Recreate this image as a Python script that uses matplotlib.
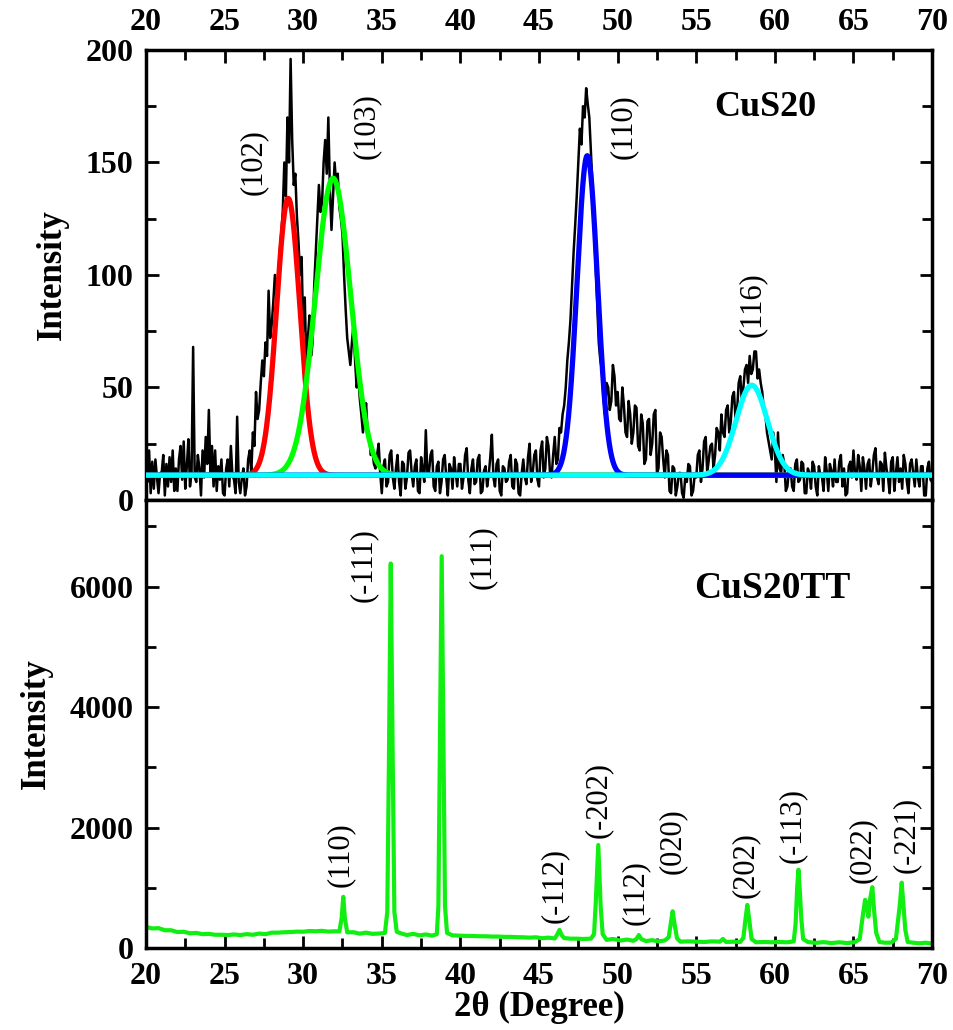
import numpy as np
import matplotlib.pyplot as plt
from matplotlib.ticker import MultipleLocator

plt.rcParams['font.family'] = ['Liberation Serif', 'DejaVu Serif']

# CuS20 raw scan, 20 -> 70 deg in 0.1 deg steps
scan_start, scan_step = 20.0, 0.1
cus20_counts = [
    14, 8, 22, 3, 17, 5, 18, 10, 3, 12,
    12, 20, 2, 16, 6, 19, 8, 22, 4, 14,
    4, 18, 24, 9, 26, 5, 15, 27, 6, 12,
    68, 10, 8, 20, 14, 2, 22, 10, 28, 16,
    40, 12, 24, 6, 22, 4, 15, 9, 18, 3,
    2, 14, 18, 6, 24, 11, 9, 3, 37, 8,
    3, 10, 14, 2, 6, 18, 22, 12, 30, 24,
    48, 36, 40, 52, 62, 55, 70, 64, 93, 72,
    78, 88, 100, 92, 96, 110, 118, 128, 150, 135,
    170, 150, 196, 160, 140, 145, 126, 115, 100, 108,
    75, 90, 60, 72, 82, 64, 70, 95, 110, 125,
    140, 128, 132, 150, 160, 145, 170, 138, 120, 135,
    150, 140, 145, 130, 125, 118, 100, 85, 72, 66,
    60, 70, 78, 62, 50, 55, 45, 38, 30, 36,
    43, 30, 28, 20, 22, 16, 14, 20, 25, 12,
    3, 15, 18, 6, 8, 20, 22, 10, 5, 14,
    20, 8, 2, 17, 16, 5, 10, 21, 22, 12,
    6, 15, 18, 4, 3, 19, 14, 8, 31, 12,
    12, 20, 22, 6, 4, 15, 17, 3, 8, 18,
    20, 10, 2, 16, 14, 5, 19, 12, 6, 16,
    16, 5, 10, 20, 23, 9, 3, 14, 18, 7,
    8, 18, 20, 3, 4, 13, 15, 6, 11, 19,
    29, 10, 6, 16, 18, 4, 2, 15, 14, 8,
    9, 17, 20, 6, 5, 18, 16, 3, 2, 12,
    18, 10, 7, 19, 25, 8, 12, 20, 22, 9,
    6, 22, 26, 10, 14, 28, 24, 12, 10, 20,
    28, 16, 18, 32, 30, 38, 42, 50, 62, 70,
    80, 95, 110, 122, 135, 150, 165, 158, 175, 170,
    183, 176, 170, 155, 140, 120, 105, 88, 70, 62,
    58, 45, 38, 52, 50, 40, 44, 60, 55, 42,
    48, 36, 35, 50, 42, 30, 28, 44, 38, 25,
    30, 42, 41, 24, 22, 38, 34, 16, 18, 35,
    36, 20, 25, 38, 40, 12, 14, 30, 28, 18,
    10, 22, 20, 4, 3, 15, 14, 2, 6, 12,
    12, 3, 1, 10, 8, 16, 15, 2, 4, 11,
    10, 20, 22, 8, 14, 26, 28, 12, 18, 24,
    25, 14, 20, 32, 30, 22, 38, 30, 28, 40,
    42, 30, 35, 46, 48, 36, 40, 52, 55, 44,
    50, 58, 60, 52, 64, 56, 58, 66, 66, 54,
    58, 52, 48, 40, 38, 30, 26, 22, 18, 30,
    22, 8, 30, 14, 12, 20, 16, 4, 6, 14,
    14, 6, 4, 16, 18, 8, 9, 17, 16, 3,
    3, 14, 12, 5, 17, 15, 6, 2, 15, 11,
    10, 4, 19, 13, 4, 16, 13, 6, 18, 8,
    8, 17, 20, 6, 14, 2, 3, 15, 17, 10,
    22, 12, 9, 20, 15, 4, 19, 14, 5, 16,
    18, 6, 12, 20, 23, 10, 7, 17, 16, 4,
    21, 14, 10, 3, 17, 19, 4, 12, 19, 8,
    14, 5, 20, 16, 8, 3, 16, 18, 12, 6,
    18, 10, 6, 15, 15, 2, 2, 14, 17, 9,
    8,
]
scan_x = scan_start + scan_step * np.arange(len(cus20_counts))

# gaussian peak fits on the CuS20 scan
fit_colors = ['#ff0000', '#00ff00', '#0000ff', '#00ffff']
fit_center = [29.05, 31.9, 48.07, 58.53]
fit_height = [123, 132, 142, 40]
fit_sigma = [0.74, 1.12, 0.65, 1.0]
fit_base = 11

top_labels = ['(102)', '(103)', '(110)', '(116)']
top_label_x = [26.8, 34.0, 50.35, 58.55]
top_label_y = [150, 166, 166, 87]

# CuS20TT pattern
tt_x = [20.0, 20.4, 20.8, 21.2, 21.6, 22.0, 22.4, 22.8, 23.2, 23.6, 24.0, 24.4,
        24.8, 25.2, 25.6, 26.0, 26.4, 26.8, 27.2, 27.6, 28.0, 28.4, 28.8, 29.2,
        29.6, 30.0, 30.4, 30.8, 31.2, 31.6, 32.0, 32.3,
        32.45, 32.55, 32.65, 32.8,
        33.2, 33.6, 34.0, 34.4, 34.8, 35.2,
        35.35, 35.45, 35.57, 35.7, 35.8, 35.95,
        36.2, 36.6, 37.0, 37.4, 37.8, 38.2, 38.5,
        38.6, 38.7, 38.81, 38.92, 39.02, 39.15,
        39.5, 40.0, 40.4, 40.8, 41.2, 41.6, 42.0, 42.4, 42.8, 43.2, 43.6, 44.0,
        44.4, 44.8, 45.2, 45.6, 46.0,
        46.15, 46.3, 46.45, 46.6,
        47.0, 47.4, 47.8, 48.3, 48.5,
        48.6, 48.77, 48.92, 49.05,
        49.3, 49.7, 50.2, 50.6, 51.0, 51.2, 51.35, 51.5, 51.8, 52.2, 52.6, 53.0,
        53.25, 53.38, 53.5, 53.62, 53.78,
        54.0, 54.5, 55.0, 55.5, 56.0, 56.5, 56.7, 56.9, 57.4, 57.8, 58.0,
        58.12, 58.25, 58.38, 58.52,
        58.8, 59.3, 59.8, 60.3, 60.8, 61.2, 61.32,
        61.42, 61.5, 61.6, 61.68, 61.8,
        62.1, 62.6, 63.1, 63.6, 64.1, 64.6, 65.1, 65.4, 65.55,
        65.74, 65.85, 65.95, 66.05, 66.2, 66.32, 66.45, 66.65,
        67.0, 67.4, 67.7, 67.85, 67.95, 68.07, 68.18, 68.3, 68.45,
        68.8, 69.2, 69.6, 70.0]
tt_y = [350, 325, 330, 295, 295, 265, 270, 245, 250, 230, 235, 220,
        220, 215, 225, 215, 230, 220, 240, 230, 255, 255, 262, 265,
        272, 270, 282, 278, 285, 272, 278, 275,
        500, 850, 500, 260,
        262, 238, 255, 235, 240, 250,
        600, 3000, 6385, 3000, 600, 270,
        245, 215, 235, 210, 225, 205, 230,
        700, 3500, 6506, 3500, 700, 250,
        210, 205, 200, 200, 195, 195, 190, 190, 185, 185, 180, 178,
        172, 178, 162, 172, 158,
        220, 300, 210, 165,
        155, 155, 150, 155, 230,
        700, 1710, 700, 230,
        135, 150, 125, 140, 120, 150, 215, 150, 115, 130, 110, 125,
        180, 400, 610, 400, 160,
        105, 110, 105, 100, 110, 105, 150, 100, 105, 100, 170,
        450, 715, 450, 150,
        95, 100, 95, 100, 95, 110, 400,
        1000, 1300, 900, 500, 150,
        100, 85, 98, 82, 95, 82, 98, 150, 450,
        800, 700, 520, 800, 1010, 600, 250, 100,
        88, 90, 150, 500, 720, 1085, 700, 300, 100,
        88, 78, 88, 72]

bot_labels = ['(110)', '(-111)', '(111)', '(-112)', '(-202)', '(112)',
              '(020)', '(202)', '(-113)', '(022)', '(-221)']
bot_label_x = [32.34, 33.84, 41.4, 46.0, 48.78, 51.1, 53.46, 58.14, 61.12, 65.58, 68.38]
bot_label_y = [1552, 6358, 6483, 1037, 2457, 921, 1776, 1378, 2042, 1627, 1876]

fig = plt.figure(figsize=(9.54, 10.30), dpi=100)
ax1 = fig.add_axes([0.153, 0.5146, 0.824, 0.4369])
ax2 = fig.add_axes([0.153, 0.0796, 0.824, 0.4350])

# top panel
ax1.plot(scan_x, cus20_counts, color='black', lw=1.8, zorder=2)
xf = np.linspace(20, 70, 2001)
for c, mu, h, s in zip(fit_colors, fit_center, fit_height, fit_sigma):
    ax1.plot(xf, fit_base + h * np.exp(-0.5 * ((xf - mu) / s) ** 2),
             color=c, lw=3.8, zorder=3, solid_capstyle='butt')
for t, x, y in zip(top_labels, top_label_x, top_label_y):
    ax1.text(x, y, t, rotation=90, ha='center', va='center', fontsize=22)
ax1.text(59.38, 174.5, 'CuS20', fontsize=26, fontweight='bold',
         ha='center', va='center')
ax1.set_xlim(20, 70)
ax1.set_ylim(0, 200)
ax1.yaxis.set_major_locator(MultipleLocator(50))
ax1.yaxis.set_minor_locator(MultipleLocator(25))
ax1.set_ylabel('Intensity', fontsize=25, fontweight='bold', labelpad=12)
ax1.tick_params(axis='x', which='both', top=True, bottom=False,
                labeltop=True, labelbottom=False)

# bottom panel
ax2.plot(tt_x, tt_y, color='#11ee11', lw=3)
for t, x, y in zip(bot_labels, bot_label_x, bot_label_y):
    ax2.text(x, y, t, rotation=90, ha='center', va='center', fontsize=22)
ax2.text(59.82, 5976, 'CuS20TT', fontsize=27, fontweight='bold',
         ha='center', va='center')
ax2.set_xlim(20, 70)
ax2.set_ylim(0, 7440)
ax2.yaxis.set_major_locator(MultipleLocator(2000))
ax2.yaxis.set_minor_locator(MultipleLocator(1000))
ax2.set_ylabel('Intensity', fontsize=25, fontweight='bold', labelpad=12)
ax2.set_xlabel('2θ (Degree)', fontsize=25, fontweight='bold', labelpad=0)
ax2.tick_params(axis='x', which='both', top=False, bottom=True)

for ax in (ax1, ax2):
    ax.xaxis.set_major_locator(MultipleLocator(5))
    ax.xaxis.set_minor_locator(MultipleLocator(2.5))
    ax.tick_params(which='both', direction='in', left=True, right=True, width=2)
    ax.tick_params(which='major', length=9, labelsize=23, pad=9)
    ax.tick_params(which='minor', length=7)
    for lab in ax.get_xticklabels() + ax.get_yticklabels():
        lab.set_fontweight('bold')
    for sp in ax.spines.values():
        sp.set_linewidth(2.5)
ax2.tick_params(axis='x', which='major', pad=10)

fig.savefig('out.png', dpi=100)
